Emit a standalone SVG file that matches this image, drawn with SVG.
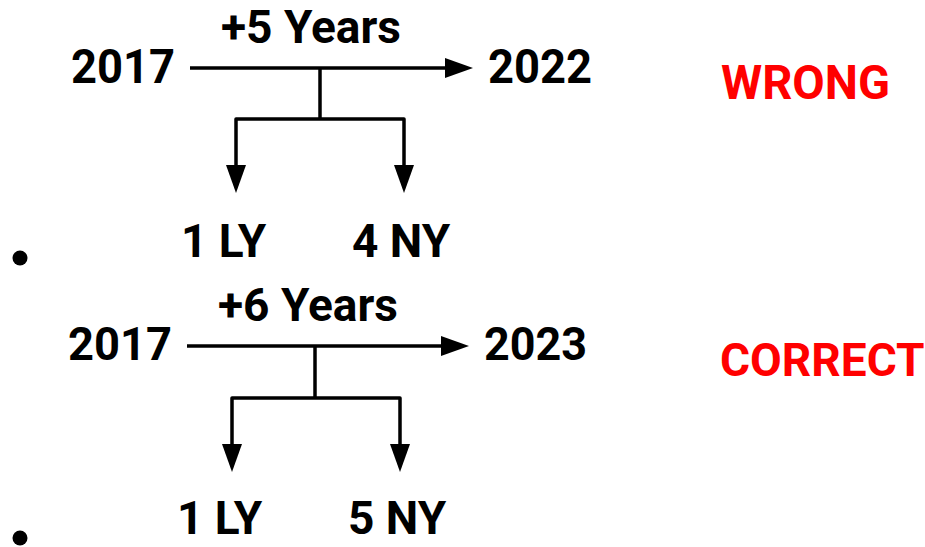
<svg xmlns="http://www.w3.org/2000/svg" width="925" height="547" viewBox="0 0 925 547">
  <style>
    .t { font-family: Roboto, "Liberation Sans", Arial, sans-serif; font-weight: bold; fill: #000; }
    .r { font-family: Roboto, "Liberation Sans", Arial, sans-serif; font-weight: bold; fill: #ff0000; }
    .c { fill: none; stroke: #000; stroke-width: 3.5; stroke-linejoin: round; }
  </style>
  <defs>
    <marker id="ah" markerUnits="userSpaceOnUse" markerWidth="28" markerHeight="20" viewBox="0 0 28 20" refX="6" refY="10" orient="auto">
      <path d="M0,0 L28,10 L0,20 Z" fill="#000"/>
    </marker>
  </defs>
  <rect width="925" height="547" fill="#fff"/>

  <!-- Top (wrong) diagram -->
  <g id="top-start"><text class="t" x="71" y="83" font-size="48" textLength="104" lengthAdjust="spacingAndGlyphs">2017</text></g>
  <g id="top-label"><text class="t" x="221" y="43" font-size="46" textLength="180" lengthAdjust="spacingAndGlyphs">+5 Years</text></g>
  <g id="top-end"><text class="t" x="488" y="83" font-size="48" textLength="104" lengthAdjust="spacingAndGlyphs">2022</text></g>
  <g id="top-ly"><text class="t" x="181" y="257" font-size="46">1 LY</text></g>
  <g id="top-ny"><text class="t" x="352" y="257" font-size="46">4 NY</text></g>
  <g id="top-bullet"><circle cx="20" cy="258" r="7.5" fill="#000"/></g>
  <g id="wrong"><text class="r" x="721" y="99" font-size="48" textLength="169" lengthAdjust="spacingAndGlyphs">WRONG</text></g>

  <!-- Bottom (correct) diagram -->
  <g id="bot-start"><text class="t" x="68" y="360" font-size="47" textLength="104" lengthAdjust="spacingAndGlyphs">2017</text></g>
  <g id="bot-label"><text class="t" x="218" y="321" font-size="46" textLength="180" lengthAdjust="spacingAndGlyphs">+6 Years</text></g>
  <g id="bot-end"><text class="t" x="484" y="360" font-size="47" textLength="103" lengthAdjust="spacingAndGlyphs">2023</text></g>
  <g id="bot-ly"><text class="t" x="177" y="534" font-size="46">1 LY</text></g>
  <g id="bot-ny"><text class="t" x="348" y="534" font-size="46">5 NY</text></g>
  <g id="bot-bullet"><circle cx="20" cy="538" r="7.5" fill="#000"/></g>
  <g id="correct"><text class="r" x="720" y="376" font-size="46">CORRECT</text></g>

  <g id="connectors">
    <path class="c" d="M190,68 H451" marker-end="url(#ah)"/>
    <path class="c" d="M320,68 V119"/>
    <path class="c" d="M320,119 H236 V171" marker-end="url(#ah)"/>
    <path class="c" d="M320,119 H404 V171" marker-end="url(#ah)"/>

    <path class="c" d="M187,346 H447" marker-end="url(#ah)"/>
    <path class="c" d="M315,346 V398"/>
    <path class="c" d="M315,398 H232 V450" marker-end="url(#ah)"/>
    <path class="c" d="M315,398 H400 V450" marker-end="url(#ah)"/>
  </g>
</svg>
